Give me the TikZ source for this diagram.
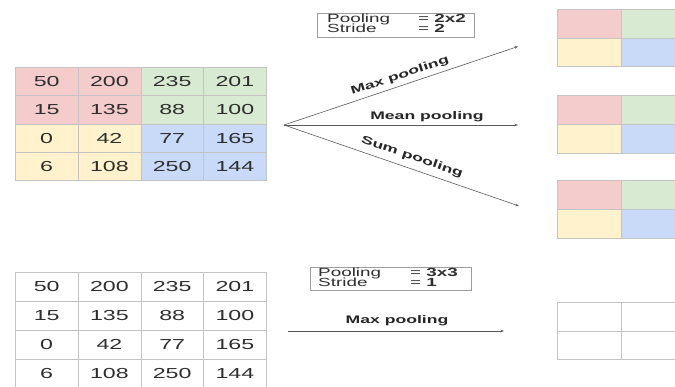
\documentclass[tikz,border=0pt]{standalone}
\usepackage{fontspec}
\setmainfont{Liberation Sans}[FakeStretch=1.6]
\usetikzlibrary{arrows.meta}

\definecolor{cellred}{HTML}{F4CCCC}
\definecolor{cellgreen}{HTML}{D9EAD3}
\definecolor{cellyellow}{HTML}{FFF2CC}
\definecolor{cellblue}{HTML}{C9DAF8}
\definecolor{gridline}{HTML}{C4C4C4}
\definecolor{txt}{HTML}{2E2E2E}
\definecolor{arrowgray}{HTML}{5A5A5A}

\tikzset{
  cell/.style={draw=gridline, line width=0.6pt, minimum width=62.75pt,
    minimum height=28.3pt, inner sep=0pt, anchor=north west,
    font=\fontsize{14.5}{16}\selectfont, text=txt},
  outcell/.style={draw=gridline, line width=0.6pt, minimum width=64pt,
    minimum height=28.7pt, inner sep=0pt, anchor=north west},
  parambox/.style={draw=gridline!80!black, line width=0.6pt, inner sep=0pt,
    anchor=north west},
  paramtext/.style={anchor=base west, inner sep=0pt, text=txt,
    font=\fontsize{11.8}{12}\selectfont},
  oplabel/.style={inner sep=1pt, text=black!85,
    font=\fontsize{11}{13}\selectfont\bfseries},
  flow/.style={draw=arrowgray, line width=0.6pt,
    -{Stealth[length=3.5pt,width=2.5pt]}},
}

\begin{document}
\begin{tikzpicture}[x=1pt,y=-1pt]
\useasboundingbox (0,0) rectangle (675,387);
\clip (0,0) rectangle (675,387);

% input 4x4 feature map, coloured by 2x2 pooling window
\foreach \v/\f [count=\c from 0] in {50/cellred,200/cellred,235/cellgreen,201/cellgreen}
  \node[cell, fill=\f] (a-0-\c) at (15+62.75*\c, 67) {\v};
\foreach \v/\f [count=\c from 0] in {15/cellred,135/cellred,88/cellgreen,100/cellgreen}
  \node[cell, fill=\f] (a-1-\c) at (15+62.75*\c, 95.3) {\v};
\foreach \v/\f [count=\c from 0] in {0/cellyellow,42/cellyellow,77/cellblue,165/cellblue}
  \node[cell, fill=\f] (a-2-\c) at (15+62.75*\c, 123.6) {\v};
\foreach \v/\f [count=\c from 0] in {6/cellyellow,108/cellyellow,250/cellblue,144/cellblue}
  \node[cell, fill=\f] (a-3-\c) at (15+62.75*\c, 151.9) {\v};

% same feature map, uncoloured
\foreach \v [count=\c from 0] in {50,200,235,201}
  \node[cell, minimum height=29pt] (b-0-\c) at (15+62.75*\c, 272) {\v};
\foreach \v [count=\c from 0] in {15,135,88,100}
  \node[cell, minimum height=29pt] (b-1-\c) at (15+62.75*\c, 301) {\v};
\foreach \v [count=\c from 0] in {0,42,77,165}
  \node[cell, minimum height=29pt] (b-2-\c) at (15+62.75*\c, 330) {\v};
\foreach \v [count=\c from 0] in {6,108,250,144}
  \node[cell, minimum height=29pt] (b-3-\c) at (15+62.75*\c, 359) {\v};

% 2x2 outputs of the three pooling types
\foreach \k/\top in {1/9, 2/95.5, 3/180.5} {
  \node[outcell, fill=cellred]    (o\k-00) at (557, \top) {};
  \node[outcell, fill=cellgreen]  (o\k-01) at (621, \top) {};
  \node[outcell, fill=cellyellow] (o\k-10) at (557, \top+28.7) {};
  \node[outcell, fill=cellblue]   (o\k-11) at (621, \top+28.7) {};
}
% empty output of the 3x3 pooling
\node[outcell] (o4-00) at (557, 302) {};
\node[outcell] (o4-01) at (621, 302) {};
\node[outcell] (o4-10) at (557, 330.7) {};
\node[outcell] (o4-11) at (621, 330.7) {};

% parameter boxes
\node[parambox, minimum width=157pt, minimum height=24pt] (pa) at (317,13) {};
\node[paramtext] (pa1) at (327,23) {Pooling};
\node[paramtext] (pa2) at (418,23) {= \textbf{2x2}};
\node[paramtext] (pa3) at (327,33) {Stride};
\node[paramtext] (pa4) at (418,33) {= \textbf{2}};

\node[parambox, minimum width=161pt, minimum height=23pt] (pb) at (310,267) {};
\node[paramtext] (pb1) at (318,277) {Pooling};
\node[paramtext] (pb2) at (410,277) {= \textbf{3x3}};
\node[paramtext] (pb3) at (318,286.5) {Stride};
\node[paramtext] (pb4) at (410,286.5) {= \textbf{1}};

% pooling arrows
\coordinate (src) at (284,125);
\coordinate (e1) at (518,46.5);
\coordinate (e2) at (518,125);
\coordinate (e3) at (519,206);
\draw[flow] (src) -- (e1);
\draw[flow] (src) -- (e2);
\draw[flow] (src) -- (e3);
\node[oplabel, rotate=18.5] (l1) at (400,76) {Max pooling};
\node[oplabel] (l2) at (427,117) {Mean pooling};
\node[oplabel, rotate=-19] (l3) at (412,157) {Sum pooling};

\coordinate (s4) at (288,331);
\coordinate (e4) at (504,331);
\draw[flow] (s4) -- (e4);
\node[oplabel] (l4) at (397,320.5) {Max pooling};
\end{tikzpicture}
\end{document}
